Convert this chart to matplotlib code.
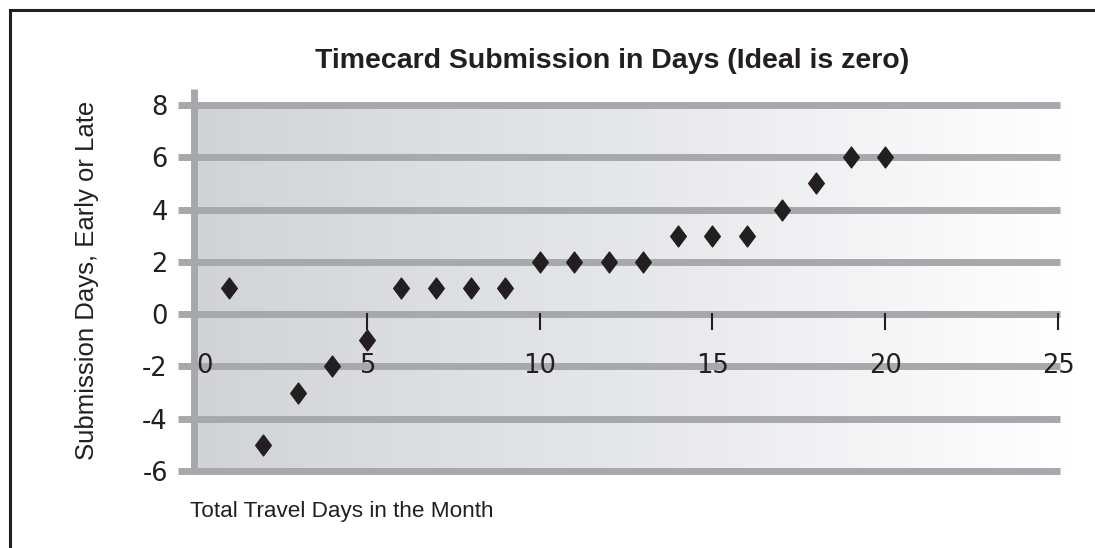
import numpy as np
import matplotlib
matplotlib.use("Agg")
import matplotlib.pyplot as plt
from matplotlib.path import Path
from matplotlib.lines import Line2D

travel_days = [1, 2, 3, 4, 5, 6, 7, 8, 9, 10,
               11, 12, 13, 14, 15, 16, 17, 18, 19, 20]
submission_days = [1, -5, -3, -2, -1, 1, 1, 1, 1, 2,
                   2, 2, 2, 3, 3, 3, 4, 5, 6, 6]
y_ticks = [-6, -4, -2, 0, 2, 4, 6, 8]
x_ticks = [0, 5, 10, 15, 20, 25]

GRID = '#a7a8ab'
INK = '#231f20'
TICK_FONT = dict(family='DejaVu Sans', size=18.5)


def main():
    plt.rcParams['font.family'] = ['Liberation Sans', 'DejaVu Sans']

    fig = plt.figure(figsize=(10.95, 5.48), dpi=100)
    ax = fig.add_axes([0.1583, 0.1119, 0.8269, 0.7346])
    ax.set_xlim(-0.6, 25.6)
    ax.set_ylim(-6.6, 8.8)
    for s in ax.spines.values():
        s.set_visible(False)
    ax.patch.set_visible(False)

    # horizontal gradient, grey on the left fading to white
    grad = np.linspace(0, 1, 256).reshape(1, -1)
    cmap = matplotlib.colors.LinearSegmentedColormap.from_list(
        'bg', ['#d2d3d6', '#e6e7ea', '#ffffff'])
    ax.imshow(grad, extent=[0, 25.4, -6, 8], aspect='auto', cmap=cmap,
              zorder=0, interpolation='bicubic')

    # gridlines and the vertical axis
    ax.hlines(y_ticks, -0.47, 25.05, colors=GRID, lw=5, zorder=1,
              capstyle='butt')
    ax.vlines(0, -6.1, 8.62, colors=GRID, lw=5, zorder=1, capstyle='butt')

    # tick marks hanging below the zero line
    ax.vlines(x_ticks[1:], -0.62, 0.05, colors=INK, lw=1.5, zorder=2)
    for x in x_ticks:
        ax.text(x + (0.3 if x == 0 else 0), -2, str(x), ha='center',
                va='center', color=INK, zorder=3, **TICK_FONT)

    diamond = Path([(0, 1), (0.75, 0), (0, -1), (-0.75, 0), (0, 1)],
                   [Path.MOVETO, Path.LINETO, Path.LINETO, Path.LINETO,
                    Path.CLOSEPOLY])
    ax.plot(travel_days, submission_days, linestyle='none', marker=diamond,
            markersize=15, color=INK, zorder=4)

    ax.set_xticks([])
    ax.set_yticks(y_ticks)
    ax.set_yticklabels([str(v) for v in y_ticks], color=INK, **TICK_FONT)
    ax.tick_params(axis='y', length=0, pad=4)

    fig.text(612 / 1095, 1 - 61 / 548,
             'Timecard Submission in Days (Ideal is zero)',
             ha='center', va='center', fontsize=20.5, fontweight='bold',
             color=INK)
    fig.text(87 / 1095, 1 - 280 / 548, 'Submission Days, Early or Late',
             rotation=90, ha='center', va='center', fontsize=18.5, color=INK)
    fig.text(190 / 1095, 1 - 512 / 548, 'Total Travel Days in the Month',
             ha='left', va='center', fontsize=16.2, color=INK)

    # frame around the chart
    x0 = 10 / 1095
    y0 = 1 - 10 / 548
    fig.add_artist(Line2D([x0, x0], [0, y0], transform=fig.transFigure,
                          color=INK, lw=2.2))
    fig.add_artist(Line2D([x0, 1], [y0, y0], transform=fig.transFigure,
                          color=INK, lw=2.2, solid_capstyle='projecting'))

    fig.savefig('out.png', dpi=100)


if __name__ == "__main__":
    main()
